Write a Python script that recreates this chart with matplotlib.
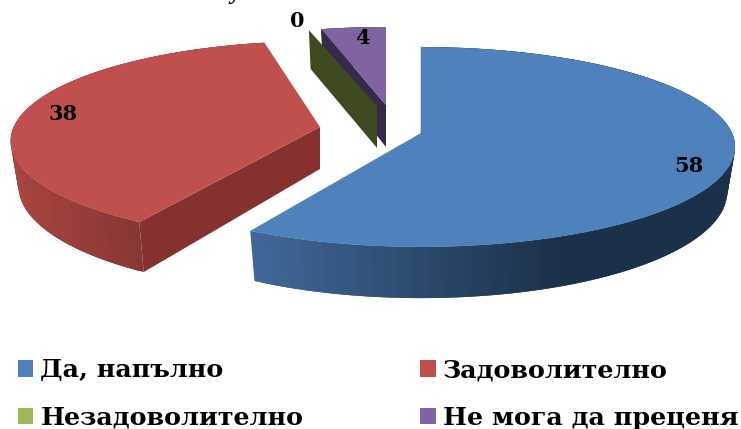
import numpy as np
import matplotlib
matplotlib.use('Agg')
import matplotlib.pyplot as plt
from matplotlib.patches import Patch
from matplotlib.colors import to_rgb

categories = ['Да, напълно', 'Задоволително', 'Незадоволително', 'Не мога да преценя']
values = [58, 38, 0, 4]
labels = ['58', '38', '0', '4']
top_colors = ['#4f81bd', '#c0504d', '#9bbb59', '#8064a2']

# where each slice tip ends up on screen (exploded pie), pixels
tips = [(421, 133), (320, 127), (377, 106), (386, 105)]
scale_x = [1.0, 0.985, 1.0, 0.95]
scale_y = [1.0, 1.0, 0.907, 0.907]
rotate = [0.0, 2.5, 0.0, 0.0]
wall_left = ['#41699a', '#a8453f', '#3f4a20', '#352a4a']
wall_right = ['#1b3049', '#7f3230', '#3f4a20', '#352a4a']
cut_colors = [None, '#843130', '#3f4a20', '#352a4a']
label_pos = [(689, 166), (63, 114), (297, 21), (362, 38)]

RX = 311.0
RY = 98.0
K = 0.14
DEPTH = 44.0
BOTTOM_SHRINK = 0.975

def project(theta, tip, i):
    x = np.sin(theta)
    y = np.cos(theta)
    w = 1 + K * y
    return tip[0] + RX * scale_x[i] * x / w, tip[1] - RY * scale_y[i] * y / w, DEPTH / w

def mix(c1, c2, t):
    a = np.array(to_rgb(c1))
    b = np.array(to_rgb(c2))
    return tuple(a + (b - a) * t)

fig = plt.figure(figsize=(7.41, 4.29), dpi=100)
ax = fig.add_axes([0, 0, 1, 1])
ax.set_xlim(0, 741)
ax.set_ylim(429, 0)
ax.axis('off')

total = sum(values)
edges = np.cumsum([0] + values) / total * 2 * np.pi

# green face lies in front of the purple one
for z, i in enumerate([1, 0, 3, 2]):
    tip = tips[i]
    rot = np.radians(rotate[i])
    th = np.linspace(edges[i] + rot, edges[i + 1] + rot, 160)
    px, py, d = project(th, tip, i)
    bx = tip[0] + (px - tip[0]) * BOTTOM_SHRINK
    by = py + d
    if values[i] > 0:
        # outer wall in strips, each one runs under the next so no seams show
        for j in range(len(th) - 2):
            t = np.clip((px[j] - px.min()) / (px.max() - px.min() + 1e-6) / 0.65, 0, 1)
            ax.fill([px[j], px[j + 2], bx[j + 2], bx[j]],
                    [py[j], py[j + 2], by[j + 2], by[j]],
                    color=mix(wall_left[i], wall_right[i], t), lw=0, zorder=z + 1)
    if cut_colors[i] is not None:
        # cut face of the slice, along its first radius
        ax.fill([tip[0], px[0], bx[0], tip[0]],
                [tip[1], py[0], by[0], tip[1] + DEPTH - 2],
                color=cut_colors[i], lw=0, zorder=z + 1.2)
    if values[i] > 0:
        ax.fill(np.r_[tip[0], px], np.r_[tip[1], py], color=top_colors[i], lw=0, zorder=z + 1.5)

# thin inner edge of the blue slice
ax.plot([tips[0][0], tips[0][0]], [tips[0][1], project(0, tips[0], 0)[1]],
        color='#1f3553', lw=1, zorder=0.5)

for txt, pos in zip(labels, label_pos):
    ax.text(pos[0], pos[1], txt, family='DejaVu Serif', weight='bold', fontsize=15,
            color='black', ha='center', va='center', zorder=10)

# piece of the cut off title at the top edge
ax.text(236, -8, 'у', family='Liberation Serif', weight='bold', style='italic',
        fontsize=18, color='black', ha='center', va='center', zorder=10)

order = [0, 2, 1, 3]
handles = [Patch(facecolor=top_colors[i], edgecolor='none', label=categories[i]) for i in order]
leg = ax.legend(handles=handles, ncol=2, loc='lower left', bbox_to_anchor=(18 / 741, -0.002),
                frameon=False, handlelength=0.6, handleheight=0.6, handletextpad=0.28,
                columnspacing=4.6, labelspacing=0.92, borderpad=0, borderaxespad=0,
                prop={'family': 'DejaVu Serif', 'weight': 'bold', 'size': 18.3})

fig.savefig('out.png', dpi=100)
